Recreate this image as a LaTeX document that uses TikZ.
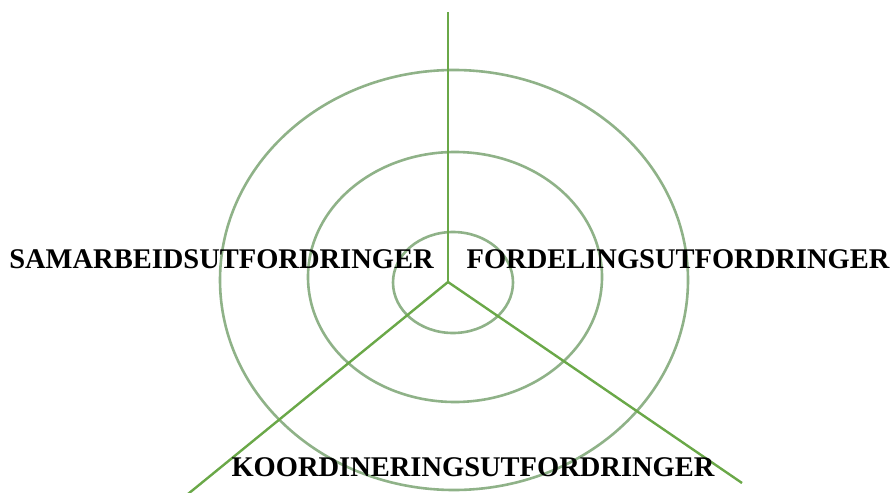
\documentclass[tikz,border=0pt]{standalone}
\usepackage{fontspec}
\setmainfont{Liberation Serif}
\definecolor{linegreen}{RGB}{106,168,72}
\definecolor{ringgreen}{RGB}{143,178,136}
\tikzset{
  spoke/.style={draw=linegreen, line width=2.4pt},
  ring/.style={draw=ringgreen, line width=2.6pt},
  lbl/.style={font=\fontsize{28.5}{28.5}\selectfont\bfseries, inner sep=0pt, anchor=base}
}
\begin{document}
\begin{tikzpicture}[x=1pt,y=-1pt]
\useasboundingbox (0,0) rectangle (893,492);
\draw[ring] (454,280) ellipse [x radius=234, y radius=210];
\draw[ring] (455,277) ellipse [x radius=147, y radius=125];
\draw[ring] (453,282.5) ellipse [x radius=60, y radius=50.5];
\coordinate (c) at (448,282);
\coordinate (top) at (448,12);
\coordinate (ll) at (188,494);
\coordinate (lr) at (742,483);
\draw[spoke] (c) -- (top);
\draw[spoke] (c) -- (ll);
\draw[spoke] (c) -- (lr);
\node[lbl] (sam) at (221.5,268) {SAMARBEIDSUTFORDRINGER};
\node[lbl] (ford) at (678,268) {FORDELINGSUTFORDRINGER};
\node[lbl] (koor) at (473,476) {KOORDINERINGSUTFORDRINGER};
\end{tikzpicture}
\end{document}
